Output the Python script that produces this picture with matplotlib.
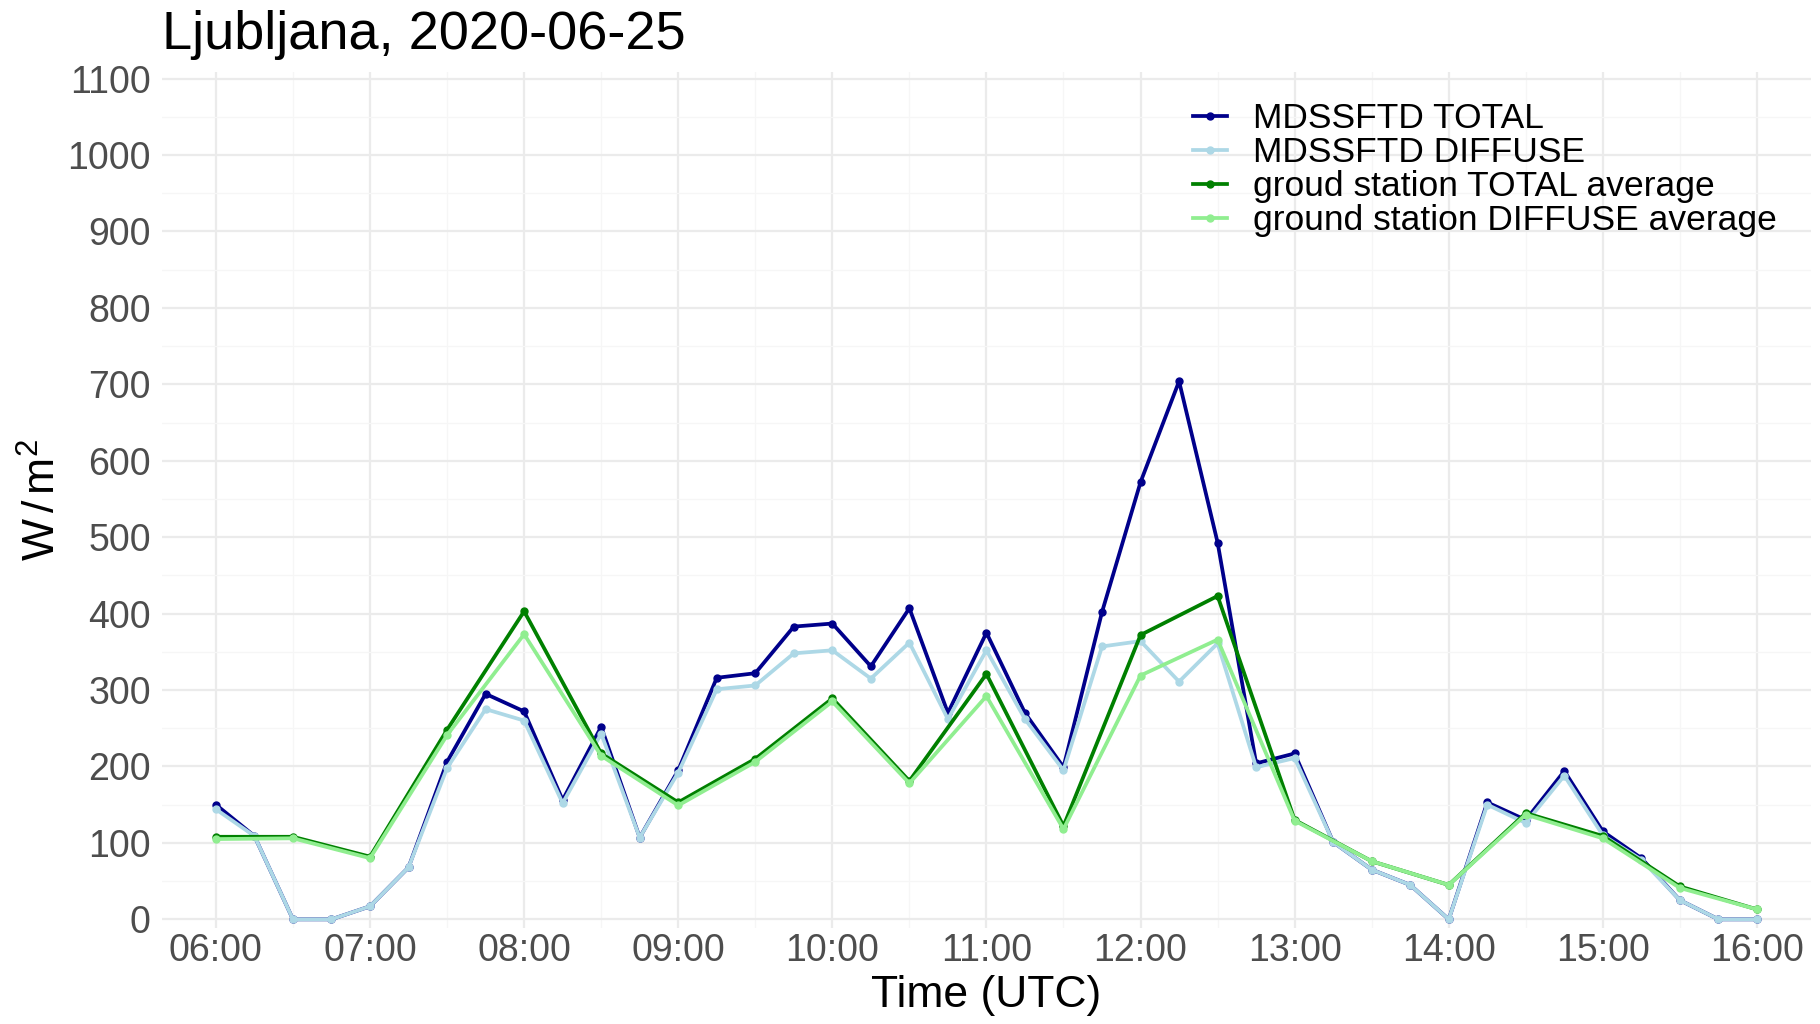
import pandas as pd
import matplotlib
matplotlib.use("Agg")
import matplotlib.pyplot as plt
import matplotlib.dates as mdates
from matplotlib.ticker import MultipleLocator

plt.rcParams['font.family'] = ['Liberation Sans', 'DejaVu Sans']
plt.rcParams['mathtext.fontset'] = 'custom'
plt.rcParams['mathtext.rm'] = 'Liberation Sans'
plt.rcParams['mathtext.it'] = 'Liberation Sans'

# 15-minute satellite samples and 30-minute ground station averages
sat_times = pd.date_range("2020-06-25 06:00", "2020-06-25 16:00", freq="15min")
ground_times = pd.date_range("2020-06-25 06:00", "2020-06-25 16:00", freq="30min")

mdssftd_total = [150, 109, 0, 0, 17, 68, 206, 295, 272, 156, 252, 107, 195, 316, 322,
                 383, 387, 331, 407, 270, 375, 270, 199, 402, 572, 704, 493, 204, 217,
                 101, 65, 45, 0, 153, 130, 194, 115, 80, 25, 0, 0]
mdssftd_diffuse = [144, 109, 0, 0, 17, 68, 198, 275, 260, 152, 243, 107, 192, 301, 306,
                   348, 352, 315, 362, 262, 352, 262, 195, 357, 364, 311, 361, 199, 211,
                   101, 65, 45, 0, 150, 126, 188, 110, 78, 25, 0, 0]
ground_total = [108, 108, 82, 248, 403, 217, 153, 210, 289, 181, 321, 122, 372, 423,
                130, 76, 45, 139, 109, 43, 13]
ground_diffuse = [105, 106, 80, 241, 373, 214, 149, 206, 285, 178, 292, 118, 319, 366,
                  129, 76, 45, 137, 106, 41, 13]

fig = plt.figure(figsize=(18.2, 10.24), dpi=100)
ax = fig.add_axes([0.089, 0.094, 0.906, 0.836])

ax.plot(sat_times, mdssftd_total, color="darkblue", lw=2.7, marker="o", ms=5,
        label="MDSSFTD TOTAL", zorder=3)
ax.plot(sat_times, mdssftd_diffuse, color="lightblue", lw=2.7, marker="o", ms=5,
        label="MDSSFTD DIFFUSE", zorder=3)
ax.plot(ground_times, ground_total, color="green", lw=2.7, marker="o", ms=5,
        label="groud station TOTAL average", zorder=3)
ax.plot(ground_times, ground_diffuse, color="lightgreen", lw=2.7, marker="o", ms=5,
        label="ground station DIFFUSE average", zorder=3)

ax.set_xlim(pd.Timestamp("2020-06-25 05:39"), pd.Timestamp("2020-06-25 16:21"))
ax.set_ylim(-11, 1109)
ax.xaxis.set_major_locator(mdates.HourLocator())
ax.xaxis.set_minor_locator(mdates.MinuteLocator(byminute=[30]))
ax.xaxis.set_major_formatter(mdates.DateFormatter("%H:%M"))
ax.yaxis.set_major_locator(MultipleLocator(100))
ax.yaxis.set_minor_locator(MultipleLocator(50))

ax.grid(which="major", color="#EBEBEB", lw=1.6)
ax.grid(which="minor", color="#F6F6F6", lw=0.9)
ax.set_axisbelow(True)
for s in ax.spines.values():
    s.set_visible(False)
ax.tick_params(which="both", length=0)
ax.tick_params(axis="both", labelsize=27, labelcolor="#4D4D4D")
ax.tick_params(axis="y", pad=8)
ax.tick_params(axis="x", pad=4)

ax.set_xlabel("Time (UTC)", fontsize=32, labelpad=4)
ax.set_ylabel(r"W$\,/\,$m$^{2}$", fontsize=32, labelpad=2)
ax.set_title("Ljubljana, 2020-06-25", loc="left", fontsize=39, pad=16)

ax.legend(loc="upper left", bbox_to_anchor=(1193 / 1820, 1 - 102 / 1024),
          bbox_transform=fig.transFigure, frameon=False, fontsize=25.5,
          handlelength=0.95, handletextpad=0.75, labelspacing=0.03,
          borderaxespad=0, borderpad=0)

fig.savefig("out.png", dpi=100)
